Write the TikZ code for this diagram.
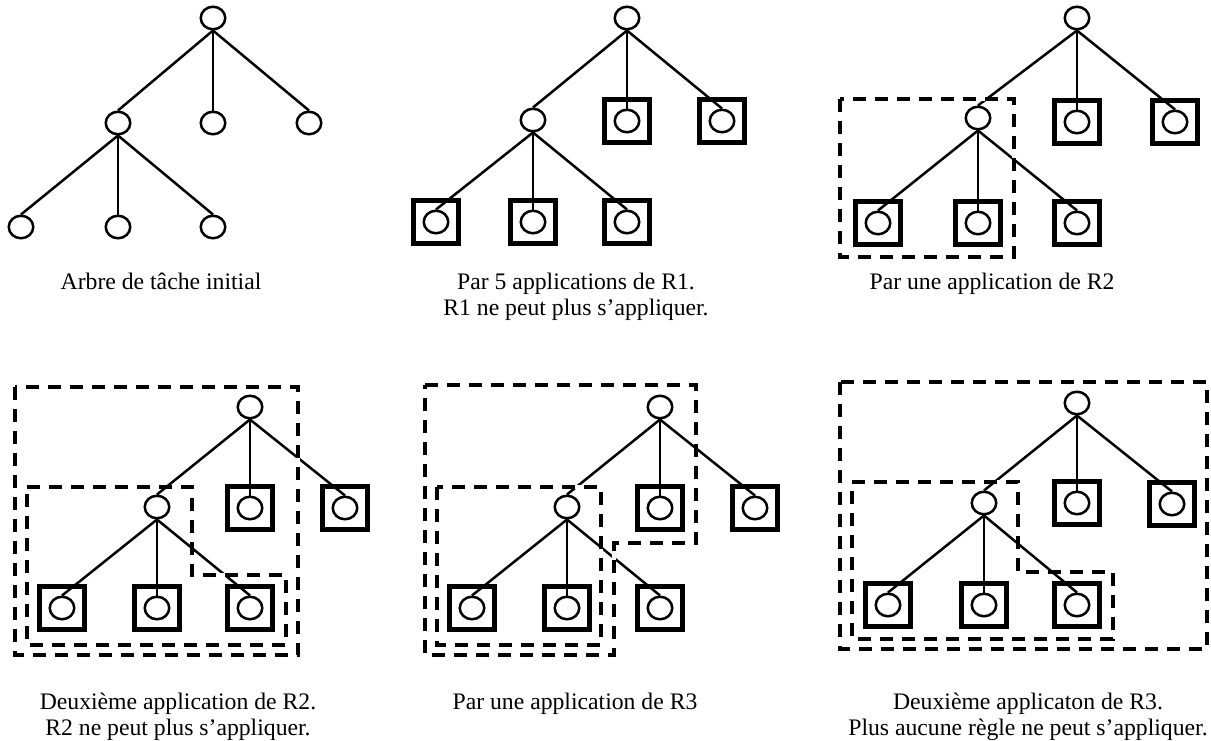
\documentclass[tikz,border=0pt]{standalone}
\usepackage{fontspec}
\setmainfont{Liberation Serif}
\usetikzlibrary{shapes.geometric}
\tikzset{
  leaf/.style={ellipse, draw, line width=2.5pt, minimum width=24.5pt, minimum height=22.5pt, inner sep=0pt},
  donebox/.style={draw, line width=5.5pt, minimum width=45pt, minimum height=43pt, inner sep=0pt},
  edge/.style={line width=2.5pt},
  zonebg/.style={line width=4.5pt, white},
  zone/.style={line width=4.5pt, dash pattern=on 13pt off 9pt},
  caption/.style={anchor=base, font=\fontsize{23.7}{27}\selectfont, inner sep=0pt},
}
\newcommand\tasktree[8]{%
  \node[leaf] (#1r) at (#2) {};
  \node[leaf] (#1m) at (#3) {};
  \node[leaf] (#1s) at (#4) {};
  \node[leaf] (#1t) at (#5) {};
  \node[leaf] (#1a) at (#6) {};
  \node[leaf] (#1b) at (#7) {};
  \node[leaf] (#1c) at (#8) {};
  \draw[edge] (#1r.south) -- (#1m.north);
  \draw[edge] (#1r.south) -- (#1s.north);
  \draw[edge] (#1r.south) -- (#1t.north);
  \draw[edge] (#1m.south) -- (#1a.north);
  \draw[edge] (#1m.south) -- (#1b.north);
  \draw[edge] (#1m.south) -- (#1c.north);
}
\newcommand\boxleaves[1]{%
  \foreach \k in {s,t,a,b,c} {\node[donebox] (#1\k B) at (#1\k) {};}
}
\begin{document}
\begin{tikzpicture}[x=1pt,y=-1pt]
\useasboundingbox (0,0) rectangle (1211,740);

% Panel 1
\tasktree{p1}{213,18}{118,123}{213,123}{309,123}{21,227}{118,227}{213,227}
\node[caption] (c1) at (161,289) {Arbre de tâche initial};

% Panel 2
\tasktree{p2}{627,18}{533,120}{627,121}{722,121}{436,222}{533,222}{627,222}
\boxleaves{p2}
\node[caption] (c2a) at (576,289) {Par 5 applications de R1.};
\node[caption] (c2b) at (576,315) {R1 ne peut plus s’appliquer.};

% Panel 3
\tasktree{p3}{1077,18}{978,118}{1077,122}{1175,122}{878,223}{978,223}{1077,223}
\boxleaves{p3}
\foreach \s in {zonebg,zone}
  \draw[\s] (840,99) rectangle (1014,257);
\node[caption] (c3) at (992,289) {Par une application de R2};

% Panel 4
\tasktree{p4}{250,407}{157,507}{250,508}{345,508}{62,608}{157,608}{250,608}
\boxleaves{p4}
\foreach \s in {zonebg,zone} {
  \draw[\s] (15,387) rectangle (298,655);
  \draw[\s] (27,487) -- (192,487) -- (192,575) -- (286,575) -- (286,645) -- (27,645) -- cycle;
}
\node[caption] (c4a) at (178,709) {Deuxième application de R2.};
\node[caption] (c4b) at (178,735) {R2 ne peut plus s’appliquer.};

% Panel 5
\tasktree{p5}{660,407}{567,507}{660,508}{755,508}{472,608}{567,608}{660,608}
\boxleaves{p5}
\foreach \s in {zonebg,zone} {
  \draw[\s] (425,385) -- (696,385) -- (696,543) -- (614,543) -- (614,655) -- (425,655) -- cycle;
  \draw[\s] (437,487) rectangle (601,645);
}
\node[caption] (c5) at (575,709) {Par une application de R3};

% Panel 6
\tasktree{p6}{1077,403}{984,503}{1077,503}{1172,504}{888,605}{984,605}{1077,605}
\boxleaves{p6}
\foreach \s in {zonebg,zone} {
  \draw[\s] (840,382) rectangle (1207,649);
  \draw[\s] (852,482) -- (1018,482) -- (1018,572) -- (1113,572) -- (1113,639) -- (852,639) -- cycle;
}
\node[caption] (c6a) at (1028,709) {Deuxième applicaton de R3.};
\node[caption] (c6b) at (1028,735) {Plus aucune règle ne peut s’appliquer.};
\end{tikzpicture}
\end{document}
